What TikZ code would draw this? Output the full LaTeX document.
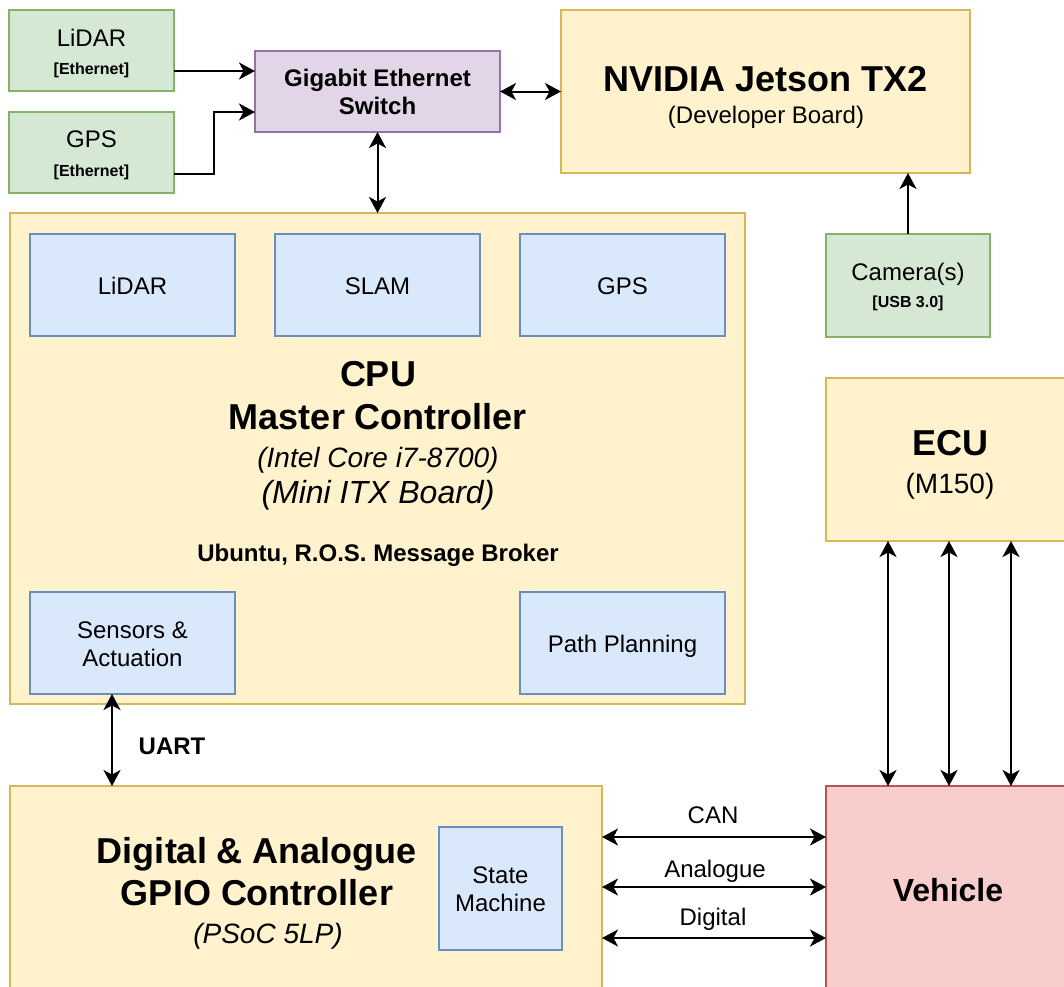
\documentclass[tikz,border=0pt]{standalone}
\usepackage{fontspec}
\setmainfont{Liberation Sans}
\usetikzlibrary{arrows.meta}
\definecolor{gfill}{HTML}{D5E8D4}\definecolor{gline}{HTML}{82B366}
\definecolor{pfill}{HTML}{E1D5E7}\definecolor{pline}{HTML}{9673A6}
\definecolor{yfill}{HTML}{FFF2CC}\definecolor{yline}{HTML}{D6B656}
\definecolor{bfill}{HTML}{DAE8FC}\definecolor{bline}{HTML}{6C8EBF}
\definecolor{rfill}{HTML}{F8CECC}\definecolor{rline}{HTML}{B85450}
\tikzset{
  box/.style={draw, line width=2pt, inner sep=0pt, outer sep=0pt},
  gbox/.style={box, fill=gfill, draw=gline},
  pbox/.style={box, fill=pfill, draw=pline},
  ybox/.style={box, fill=yfill, draw=yline},
  bbox/.style={box, fill=bfill, draw=bline},
  rbox/.style={box, fill=rfill, draw=rline},
  txt/.style={inner sep=0pt, anchor=base},
  n24/.style={txt, font=\fontsize{24}{28}\selectfont},
  b24/.style={txt, font=\fontsize{24}{28}\selectfont\bfseries},
  b16/.style={txt, font=\fontsize{16}{19}\selectfont\bfseries},
  b36/.style={txt, font=\fontsize{36}{42}\selectfont\bfseries},
  i28/.style={txt, font=\fontsize{28}{33}\selectfont\itshape},
  i32/.style={txt, font=\fontsize{32}{38}\selectfont\itshape},
  arr/.style={line width=2pt, -{Stealth[length=16pt,width=17pt,inset=4.5pt]}},
  darr/.style={line width=2pt, {Stealth[length=16pt,width=17pt,inset=4.5pt]}-{Stealth[length=16pt,width=17pt,inset=4.5pt]}},
}
\begin{document}
\begin{tikzpicture}[x=1pt,y=-1pt]
\useasboundingbox (0,0) rectangle (1064,986);
\clip (0,0) rectangle (1064,986);
\fill[white] (0,0) rectangle (1064,986);

% boxes
\node[gbox, minimum width=165pt, minimum height=81pt] (lidar) at (91.5,50.5) {};
\node[gbox, minimum width=165pt, minimum height=81pt] (gps) at (91.5,152.5) {};
\node[pbox, minimum width=245pt, minimum height=81pt] (sw) at (377.5,91.5) {};
\node[ybox, minimum width=409pt, minimum height=163pt] (jet) at (765.5,91.5) {};
\node[gbox, minimum width=164pt, minimum height=103pt] (cam) at (908,285.5) {};
\node[ybox, minimum width=735pt, minimum height=491pt] (cpu) at (377.5,458.5) {};
\node[bbox, minimum width=205pt, minimum height=102pt] (il) at (132.5,285) {};
\node[bbox, minimum width=205pt, minimum height=102pt] (is) at (377.5,285) {};
\node[bbox, minimum width=205pt, minimum height=102pt] (ig) at (622.5,285) {};
\node[bbox, minimum width=205pt, minimum height=102pt] (isa) at (132.5,643) {};
\node[bbox, minimum width=205pt, minimum height=102pt] (ipp) at (622.5,643) {};
\node[ybox, minimum width=248pt, minimum height=163pt] (ecu) at (950,459.5) {};
\node[rbox, minimum width=248pt, minimum height=208pt] (veh) at (950,890) {};
\node[ybox, minimum width=592pt, minimum height=208pt] (gpio) at (306,890) {};
\node[bbox, minimum width=123pt, minimum height=123pt] (sm) at (500.5,888.5) {};

% texts
\node[n24] (t1) at (91.5,46.6) {LiDAR};
\node[b16] (t2) at (91.5,74.8) {[Ethernet]};
\node[n24] (t3) at (91.5,147.6) {GPS};
\node[b16] (t4) at (91.5,176.8) {[Ethernet]};
\node[b24] (t5) at (377.5,86.6) {Gigabit Ethernet};
\node[b24] (t6) at (377.5,114.6) {Switch};
\node[b36] (t7) at (766,91) {NVIDIA Jetson TX2};
\node[n24] (t8) at (766,123.6) {(Developer Board)};
\node[n24] (t9) at (908,280.6) {Camera(s)};
\node[b16] (t10) at (908,307.8) {[USB 3.0]};
\node[n24] (t11) at (132.5,294.6) {LiDAR};
\node[n24] (t12) at (377.5,294.6) {SLAM};
\node[n24] (t13) at (622.5,294.6) {GPS};
\node[n24] (t14) at (132.5,638.6) {Sensors \&};
\node[n24] (t15) at (132.5,666.6) {Actuation};
\node[n24] (t16) at (622.5,652.6) {Path Planning};
\node[b36] (t17) at (378,386) {CPU};
\node[b36] (t18) at (378,429) {Master Controller};
\node[i28] (t19) at (378,467) {(Intel Core i7-8700)};
\node[i32] (t20) at (378,503.5) {(Mini ITX Board)};
\node[b24] (t21) at (378,561.6) {Ubuntu, R.O.S. Message Broker};
\node[b36] (t22) at (950,455.6) {ECU};
\node[txt, font=\fontsize{28}{33}\selectfont] (t23) at (950,493) {(M150)};
\node[txt, font=\fontsize{32}{38}\selectfont\bfseries] (t24) at (948,901.5) {Vehicle};
\node[b36] (t25) at (257,863) {Digital \& Analogue};
\node[b36] (t26) at (257,905) {GPIO Controller};
\node[i28] (t27) at (268,943) {(PSoC 5LP)};
\node[n24] (t28) at (500.5,883.6) {State};
\node[n24] (t29) at (500.5,911.6) {Machine};
\node[b24] (t30) at (172,754.6) {UART};
\node[n24] (t31) at (713,823.6) {CAN};
\node[n24] (t32) at (715,877.6) {Analogue};
\node[n24] (t33) at (713,925.6) {Digital};

% connectors
\draw[arr] (lidar.east |- 0,71) -- (sw.west |- 0,71);
\draw[arr] (gps.east |- 0,174) -| (214,112) -- (sw.west |- 0,112);
\draw[darr] (sw.east) -- (jet.west);
\draw[darr] (sw.south) -- (sw.south |- cpu.north);
\draw[arr] (cam.north) -- (cam.north |- jet.south);
\draw[darr] (isa.south -| 112,0) -- (gpio.north -| 112,0);
\draw[darr] (ecu.south -| 888,0) -- (veh.north -| 888,0);
\draw[darr] (ecu.south -| 949,0) -- (veh.north -| 949,0);
\draw[darr] (ecu.south -| 1011,0) -- (veh.north -| 1011,0);
\draw[darr] (gpio.east |- 0,837) -- (veh.west |- 0,837);
\draw[darr] (gpio.east |- 0,887) -- (veh.west |- 0,887);
\draw[darr] (gpio.east |- 0,938) -- (veh.west |- 0,938);
\end{tikzpicture}
\end{document}
